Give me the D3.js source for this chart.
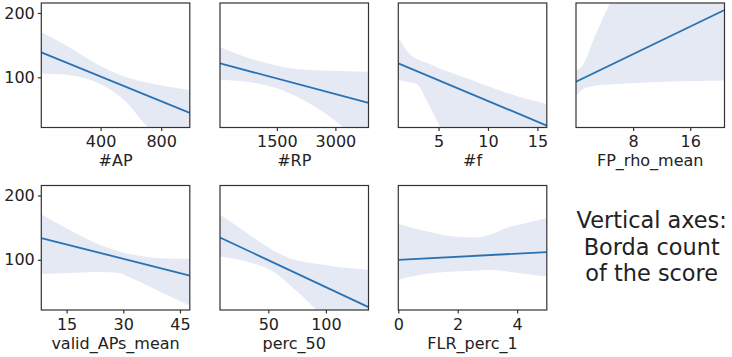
<!DOCTYPE html>
<html>
	<head>
		<style>
			body {
				margin: 0;
				background: #fff;
			}
			svg text {
				font-family: 'DejaVu Sans', sans-serif;
				fill: #222;
			}
		</style>
	</head>
	<body>
		<svg id="chart" width="732" height="357"></svg>
		<script src="https://cdnjs.cloudflare.com/ajax/libs/d3/7.8.5/d3.min.js"></script>
		<script>
			// one entry per panel, in reading order
			let labels = ['#AP', '#RP', '#f', 'FP_rho_mean', 'valid_APs_mean', 'perc_50', 'FLR_perc_1'];
			let xDomains = [[8, 989], [42, 3849], [0.93, 15.95], [0, 20.8], [8.3, 47.6], [8, 137], [0, 5]];
			let xTicks = [[400, 800], [1500, 3000], [5, 10, 15], [8, 16], [15, 30, 45], [50, 100], [0, 2, 4]];
			let yDomain = [22, 215.5];
			let yTicks = [100, 200];

			// fitted regression line, value at left and right end of x domain
			let lineStart = [138.8, 121.7, 121.7, 93.3, 133.7, 134.7, 100];
			let lineEnd = [44.7, 60.2, 25, 204.6, 75.6, 26.4, 112];

			let bandX = [
				[8, 175, 395, 559, 714, 989],
				[42, 986, 1842, 2699, 3220, 3849],
				[0.93, 2.1, 2.8, 3.8, 5.2, 6.5, 9.9, 13.3, 15.95],
				[0, 1, 1.5, 2.4, 3.3, 3.8, 4.8, 5.7, 20.8],
				[8.3, 15, 23.9, 28.3, 32.7, 39.8, 47.6],
				[8, 25.2, 39.6, 54.1, 68.6, 91.5, 97.5, 137],
				[0, 0.74, 1.88, 2.67, 3.0, 3.8, 4.1, 5],
			];
			let bandUpper = [
				[169.9, 149, 118, 101, 91.5, 80.4],
				[146.6, 126, 114, 110.4, 109.5, 108.8],
				[162, 136, 128.6, 122.5, 113, 106, 87, 69, 58.7],
				[110.4, 120, 131, 157, 180, 193, 218, 260, 400],
				[171, 149, 123, 114, 107.8, 102.6, 101.6],
				[170, 149.3, 131, 115, 102.6, 94, 92.2, 84.4],
				[155.5, 146.7, 136.2, 134.7, 138, 151.8, 155, 164.9],
			];
			let bandLower = [
				[106, 104, 89.7, 63.8, 22, -10],
				[96.4, 90.7, 75, 45.7, 22, -5],
				[96, 92, 89.7, 63.8, 22, -10, -20, -20, -20],
				[71.6, 82, 84, 86, 88, 88.5, 89, 89.7, 94.9],
				[78.2, 79.3, 81, 80, 70, 50, 28.9],
				[105.2, 100, 93, 81.8, 61, 22, 10, -20],
				[68.9, 76.7, 81.8, 83.5, 84.4, 81, 79.3, 74],
			];

			let note = ['Vertical axes:', 'Borda count', 'of the score'];

			let colLeft = [41.3, 220, 398.3, 576];
			let rowTop = [3, 185.5];
			let panelW = 148.5;
			let panelH = 124.5;

			let svg = d3.select('#chart');

			labels.forEach((label, i) => {
				let col = i % 4;
				let row = Math.floor(i / 4);
				let g = svg
					.append('g')
					.attr('transform', `translate(${colLeft[col]}, ${rowTop[row]})`);

				let x = d3.scaleLinear().domain(xDomains[i]).range([0, panelW]);
				let y = d3.scaleLinear().domain(yDomain).range([panelH, 0]);

				g.append('clipPath')
					.attr('id', 'clip' + i)
					.append('rect')
					.attr('width', panelW)
					.attr('height', panelH);

				let plot = g.append('g').attr('clip-path', `url(#clip${i})`);

				let band = bandX[i].map((v, j) => ({
					x: v,
					lo: bandLower[i][j],
					hi: bandUpper[i][j],
				}));

				plot.append('path')
					.datum(band)
					.attr('fill', '#e5e9f4')
					.attr(
						'd',
						d3
							.area()
							.curve(d3.curveMonotoneX)
							.x(d => x(d.x))
							.y0(d => y(d.lo))
							.y1(d => y(d.hi))
					);

				plot.append('path')
					.datum([
						[xDomains[i][0], lineStart[i]],
						[xDomains[i][1], lineEnd[i]],
					])
					.attr('fill', 'none')
					.attr('stroke', '#2872b4')
					.attr('stroke-width', 1.8)
					.attr(
						'd',
						d3
							.line()
							.x(d => x(d[0]))
							.y(d => y(d[1]))
					);

				let xAxis = g
					.append('g')
					.attr('transform', `translate(0, ${panelH})`)
					.call(
						d3
							.axisBottom(x)
							.tickValues(xTicks[i])
							.tickFormat(d3.format('d'))
							.tickSize(3.5)
							.tickPadding(5)
							.tickSizeOuter(0)
					);
				styleAxis(xAxis);

				if (col === 0) {
					let yAxis = g.append('g').call(
						d3
							.axisLeft(y)
							.tickValues(yTicks)
							.tickSize(3.5)
							.tickPadding(3)
							.tickSizeOuter(0)
					);
					styleAxis(yAxis);
				}

				g.append('rect')
					.attr('width', panelW)
					.attr('height', panelH)
					.attr('fill', 'none')
					.attr('stroke', '#333')
					.attr('stroke-width', 1.2);

				g.append('text')
					.attr('x', panelW / 2)
					.attr('y', panelH + 38.5)
					.attr('text-anchor', 'middle')
					.style('font-size', '16px')
					.text(label);
			});

			function styleAxis(axis) {
				axis.select('.domain').remove();
				axis.selectAll('line').attr('stroke', '#333').attr('stroke-width', 1.2);
				axis.selectAll('text')
					.style('font-size', '16px')
					.style('font-family', "'DejaVu Sans', sans-serif")
					.attr('fill', '#222');
			}

			svg.append('text')
				.attr('x', 651.7)
				.attr('y', 228.3)
				.attr('text-anchor', 'middle')
				.style('font-size', '22.4px')
				.selectAll('tspan')
				.data(note)
				.join('tspan')
				.attr('x', 651.7)
				.attr('dy', (d, i) => (i === 0 ? 0 : 26.4))
				.text(d => d);
		</script>
	</body>
</html>
